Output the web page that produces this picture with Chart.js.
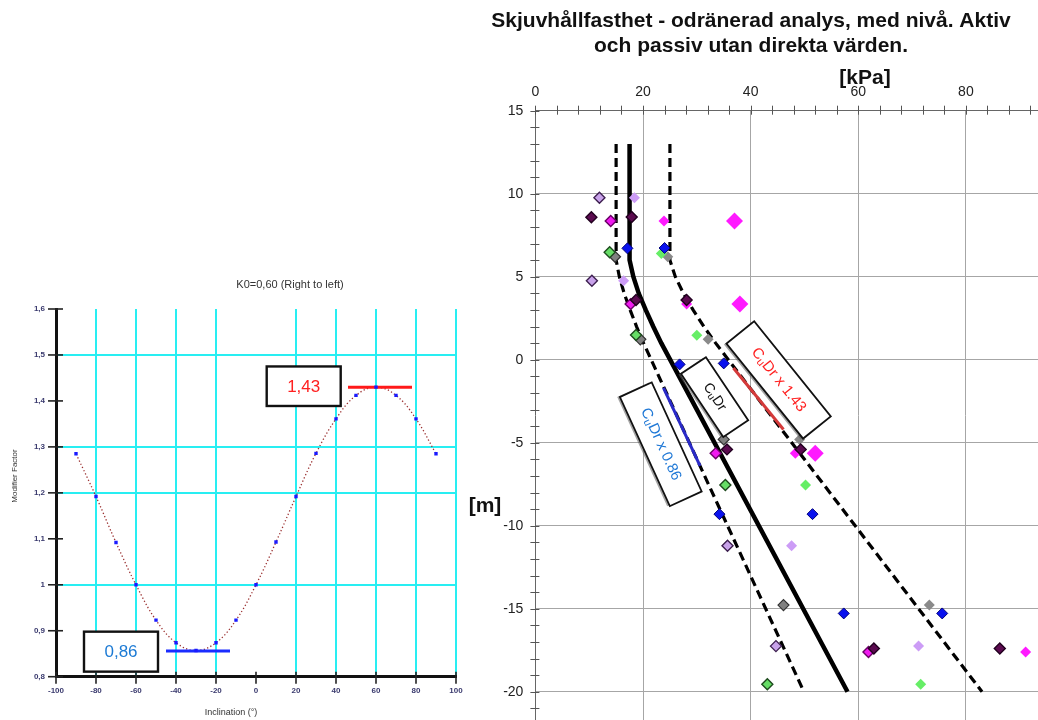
<!DOCTYPE html>
<html><head><meta charset="utf-8">
<script src="https://cdn.jsdelivr.net/npm/chart.js@4.4.0/dist/chart.umd.min.js"></script>
<style>
html,body{margin:0;padding:0;background:#fff;width:1038px;height:720px;overflow:hidden;position:relative;}
#c1{position:absolute;left:0;top:270px;}
#c2{position:absolute;left:460px;top:0;}
</style></head><body>
<canvas id="c1" width="468" height="450"></canvas>
<canvas id="c2" width="578" height="720"></canvas>
<script>
// ---------- Left chart: modifier factor vs inclination ----------
const inclination = [-90,-80,-70,-60,-50,-40,-30,-20,-10,0,10,20,30,40,50,60,70,80,90];
const modifierFactor = [1.285,1.192,1.092,1.0,0.923,0.874,0.857,0.874,0.923,1.0,1.093,1.192,1.286,1.361,1.412,1.430,1.412,1.361,1.285];
const maxLineX = [46, 78];
const maxLineY = [1.43, 1.43];
const minLineX = [-45, -13];
const minLineY = [0.856, 0.856];
const cyanXLines = [-80,-60,-40,-20,20,40,60,80,100];
const cyanYLines = [1.0,1.2,1.3,1.5];
const leftTitle = 'K0=0,60 (Right to left)';
const leftXTitle = 'Inclination (°)';
const leftYTitle = 'Modifier Factor';
const maxLabel = '1,43';
const minLabel = '0,86';

// ---------- Right chart: shear strength vs level ----------
const rightTitle = ['Skjuvhållfasthet - odränerad analys, med nivå. Aktiv', 'och passiv utan direkta värden.'];
const depthM   = [13, 6, 5, 4, 3, 2, 1, -20];
const cuDr     = [17.5, 17.5, 18.2, 19.2, 20.5, 21.9, 23.4, 58.0];
const cuDrLow  = [15.0, 15.0, 15.6, 16.5, 17.6, 18.8, 20.1, 49.9];
const cuDrHigh = [25.0, 25.0, 26.0, 27.5, 29.3, 31.3, 33.5, 83.0];
const lowSegX  = [23.8, 30.6];  const lowSegY  = [-1.7, -6.4];
const highSegX = [36.8, 46.1];  const highSegY = [-0.5, -4.2];

const darkPurpleX = [10.4, 17.9, 18.7, 28.1, 35.6, 49.3, 62.9, 86.3];
const darkPurpleY = [8.58, 8.6, 3.6, 3.6, -5.4, -5.4, -17.4, -17.4];
const magentaBX = [14.0, 17.7, 33.5, 61.9];
const magentaBY = [8.36, 3.35, -5.64, -17.6];
const magentaX = [23.9, 28.1, 48.3, 91.1];
const magentaY = [8.36, 3.35, -5.64, -17.6];
const magentaBigX = [37.0, 38.0, 52.0];
const magentaBigY = [8.36, 3.35, -5.64];
const lavenderBX = [11.9, 10.5, 35.7, 44.7];
const lavenderBY = [9.76, 4.76, -11.2, -17.25];
const lavenderX = [18.4, 16.4, 47.6, 71.2];
const lavenderY = [9.76, 4.76, -11.2, -17.25];
const greenBX = [13.8, 18.7, 35.3, 43.1];
const greenBY = [6.47, 1.49, -7.55, -19.54];
const greenX = [23.4, 30.0, 50.2, 71.6];
const greenY = [6.4, 1.47, -7.55, -19.54];
const grayBX = [14.8, 19.5, 35.0, 46.1];
const grayBY = [6.2, 1.23, -4.8, -14.78];
const grayX = [24.6, 32.1, 49.1, 73.2];
const grayY = [6.2, 1.23, -4.8, -14.78];
const blueX = [17.1, 24.0, 26.8, 35.0, 34.2, 51.5, 57.3, 75.6];
const blueY = [6.71, 6.73, -0.28, -0.22, -9.3, -9.3, -15.28, -15.28];
const boxTexts = ['Dr x 0.86', 'Dr', 'Dr x 1.43'];

const FONT = '"Liberation Sans", Arial, Helvetica, sans-serif';
const pts = (xs, ys) => xs.map((x, i) => ({x, y: ys[i]}));
const near = (v, list) => list.some(a => Math.abs(a - v) < 1e-6);
const noPad = s => { s.paddingLeft = 0; s.paddingRight = 0; s.paddingTop = 0; s.paddingBottom = 0; };

// ---------- Left chart ----------
const leftDecor = {
  id: 'leftDecor',
  afterDatasetsDraw(chart) {
    const {ctx, scales: {x, y}} = chart;
    const box = (x0, y0, x1, y1, txt, col) => {
      const l = x.getPixelForValue(x0), r = x.getPixelForValue(x1);
      const t = y.getPixelForValue(y0), b = y.getPixelForValue(y1);
      ctx.save();
      ctx.fillStyle = '#fff';
      ctx.fillRect(l, t, r - l, b - t);
      ctx.strokeStyle = '#111'; ctx.lineWidth = 2.4;
      ctx.strokeRect(l, t, r - l, b - t);
      ctx.fillStyle = col; ctx.font = '17px ' + FONT;
      ctx.textAlign = 'center'; ctx.textBaseline = 'middle';
      ctx.fillText(txt, (l + r) / 2, (t + b) / 2 + 1);
      ctx.restore();
    };
    box(5.35, 1.475, 42.35, 1.389, maxLabel, '#ff2020');
    box(-86, 0.898, -49, 0.811, minLabel, '#1c7ad4');
  },
  afterDraw(chart) {
    const {ctx, scales: {x, y}} = chart;
    ctx.save();
    ctx.strokeStyle = '#222'; ctx.lineWidth = 1.6;
    const ax = x.left, ay = y.bottom;
    y.ticks.forEach(t => {
      const py = y.getPixelForValue(t.value);
      ctx.beginPath(); ctx.moveTo(ax - 8, py); ctx.lineTo(ax + 7, py); ctx.stroke();
    });
    x.ticks.forEach(t => {
      const px = x.getPixelForValue(t.value);
      ctx.beginPath(); ctx.moveTo(px, ay - 5); ctx.lineTo(px, ay + 7); ctx.stroke();
    });
    ctx.fillStyle = '#333';
    ctx.textAlign = 'center'; ctx.textBaseline = 'middle';
    ctx.font = '11px ' + FONT;
    ctx.fillText(leftTitle, 290, 15);
    ctx.font = '9px ' + FONT;
    ctx.fillText(leftXTitle, 231, 443);
    ctx.translate(15, 206); ctx.rotate(-Math.PI / 2);
    ctx.font = '8px ' + FONT;
    ctx.fillText(leftYTitle, 0, 0);
    ctx.restore();
  }
};

new Chart(document.getElementById('c1'), {
  type: 'scatter',
  data: {datasets: [
    {data: pts(inclination, modifierFactor), showLine: false, pointStyle: 'rect', pointRadius: 2.4,
     backgroundColor: '#1a1aff', borderColor: '#1a1aff', borderWidth: 0, order: 0},
    {data: pts(maxLineX, maxLineY), showLine: true, borderColor: '#ff1a1a', borderWidth: 3, pointRadius: 0, order: 1},
    {data: pts(minLineX, minLineY), showLine: true, borderColor: '#1a2cff', borderWidth: 3, pointRadius: 0, order: 1},
    {data: pts(inclination, modifierFactor), showLine: true, borderColor: '#9b3030', borderWidth: 1.3,
     borderDash: [1.3, 2.3], tension: 0.4, pointRadius: 0, order: 2}
  ]},
  options: {
    responsive: false, animation: false, events: [],
    layout: {padding: {top: 39, right: 12, left: 0, bottom: 0}, autoPadding: false},
    plugins: {legend: {display: false}, tooltip: {enabled: false}},
    scales: {
      x: {type: 'linear', min: -100, max: 100,
          ticks: {stepSize: 20, autoSkip: false, maxRotation: 0, padding: 9, color: '#3a3a6e',
                  font: {size: 8, weight: 'bold', family: FONT}},
          grid: {drawTicks: false, lineWidth: 2, color: c => near(c.tick.value, cyanXLines) ? '#28eef2' : 'rgba(0,0,0,0)'},
          border: {color: '#111', width: 3},
          afterFit: s => { s.height = 43.3; noPad(s); }},
      y: {type: 'linear', min: 0.8, max: 1.6,
          ticks: {stepSize: 0.1, autoSkip: false, padding: 11, color: '#3a3a6e',
                  font: {size: 8, weight: 'bold', family: FONT},
                  callback: v => String(Number(v.toFixed(1))).replace('.', ',')},
          grid: {drawTicks: false, lineWidth: 2, color: c => near(c.tick.value, cyanYLines) ? '#28eef2' : 'rgba(0,0,0,0)'},
          border: {color: '#111', width: 3},
          afterFit: s => { s.width = 56; noPad(s); }}
    }
  },
  plugins: [leftDecor]
});

// ---------- Right chart ----------
function drawCu(ctx, rest, color, size) {
  const big = size + 'px ' + FONT, small = Math.round(size * 0.7) + 'px ' + FONT;
  ctx.font = big; const wC = ctx.measureText('C').width, wR = ctx.measureText(rest).width;
  ctx.font = small; const wU = ctx.measureText('u').width;
  let x = -(wC + wU + wR) / 2;
  ctx.fillStyle = color; ctx.textAlign = 'left'; ctx.textBaseline = 'middle';
  ctx.font = big; ctx.fillText('C', x, 0); x += wC;
  ctx.font = small; ctx.fillText('u', x, size * 0.22); x += wU;
  ctx.font = big; ctx.fillText(rest, x, 0);
}

const rightDecor = {
  id: 'rightDecor',
  afterDatasetsDraw(chart) {
    const {ctx, scales: {x, y}} = chart;
    const rbox = (vx, vy, w, h, deg, txt, col, size) => {
      ctx.save();
      ctx.translate(x.getPixelForValue(vx), y.getPixelForValue(vy));
      ctx.rotate(deg * Math.PI / 180);
      ctx.fillStyle = 'rgba(90,90,90,0.55)';
      ctx.fillRect(-w / 2 - 1, -h / 2 + 2.5, w, h);
      ctx.fillStyle = '#fff';
      ctx.fillRect(-w / 2, -h / 2, w, h);
      ctx.strokeStyle = '#111'; ctx.lineWidth = 1.8;
      ctx.strokeRect(-w / 2, -h / 2, w, h);
      drawCu(ctx, txt, col, size);
      ctx.restore();
    };
    rbox(23.3, -5.09, 120, 35, 65.4, boxTexts[0], '#1f78d6', 15);
    rbox(33.3, -2.25, 76, 30, 56.2, boxTexts[1], '#111', 14);
    rbox(45.2, -1.22, 122, 35.6, 51.1, boxTexts[2], '#ff2020', 15);
  },
  afterDraw(chart) {
    const {ctx, scales: {x, y}} = chart;
    ctx.save();
    ctx.strokeStyle = '#555'; ctx.lineWidth = 1;
    const top = y.getPixelForValue(15), left = x.getPixelForValue(0);
    for (let v = 0; v <= x.max; v += 4) {
      const px = Math.round(x.getPixelForValue(v)) + 0.5;
      ctx.beginPath(); ctx.moveTo(px, top - 5); ctx.lineTo(px, top + 4); ctx.stroke();
    }
    for (let v = 15; v >= y.min; v -= 1) {
      const py = Math.round(y.getPixelForValue(v)) + 0.5;
      ctx.beginPath(); ctx.moveTo(left - 5, py); ctx.lineTo(left + 4, py); ctx.stroke();
    }
    ctx.fillStyle = '#111';
    ctx.textAlign = 'center'; ctx.textBaseline = 'middle';
    ctx.font = 'bold 21px ' + FONT;
    ctx.fillText(rightTitle[0], 291, 21);
    ctx.fillText(rightTitle[1], 291, 46);
    ctx.fillText('[kPa]', 405, 78);
    ctx.fillText('[m]', 25, 506);
    ctx.restore();
  }
};

const diamond = (xs, ys, fill, border, bw, r) => ({
  data: pts(xs, ys), showLine: false, pointStyle: 'rectRot', pointRadius: r,
  backgroundColor: fill, borderColor: border, borderWidth: bw, order: 0
});
const lineDs = (xs, ys, col, w, dash) => ({
  data: pts(xs, ys), showLine: true, borderColor: col, borderWidth: w, borderDash: dash || [],
  pointRadius: 0, tension: 0, order: 5
});

new Chart(document.getElementById('c2'), {
  type: 'scatter',
  data: {datasets: [
    diamond(blueX, blueY, '#0a12ee', '#00007a', 1, 5.5),
    diamond(darkPurpleX, darkPurpleY, '#5c0b50', '#220020', 1.4, 5.5),
    diamond(magentaBX, magentaBY, '#f01af0', '#6a0066', 1.4, 5.5),
    diamond(magentaX, magentaY, '#ff1aff', '#ff1aff', 0, 5.5),
    diamond(magentaBigX, magentaBigY, '#ff1aff', '#ff1aff', 0, 8.5),
    diamond(lavenderBX, lavenderBY, '#c8a2ea', '#3e2050', 1.4, 5.5),
    diamond(lavenderX, lavenderY, '#cc9cf6', '#cc9cf6', 0, 5.5),
    diamond(greenBX, greenBY, '#66dd66', '#1d4a1d', 1.4, 5.5),
    diamond(greenX, greenY, '#66ee66', '#66ee66', 0, 5.5),
    diamond(grayBX, grayBY, '#808080', '#333', 1.2, 5.5),
    diamond(grayX, grayY, '#8a8a8a', '#8a8a8a', 0, 5.5),
    lineDs(lowSegX, lowSegY, '#2a2ac8', 3),
    lineDs(highSegX, highSegY, '#d43a3a', 3),
    lineDs(cuDr, depthM, '#000', 4.5),
    lineDs(cuDrLow, depthM, '#000', 3.2, [9, 5]),
    lineDs(cuDrHigh, depthM, '#000', 3.2, [9, 5])
  ]},
  options: {
    responsive: false, animation: false, events: [],
    layout: {padding: 0, autoPadding: false},
    plugins: {legend: {display: false}, tooltip: {enabled: false}},
    scales: {
      x: {type: 'linear', position: 'top', min: 0, max: 93.4,
          ticks: {stepSize: 20, includeBounds: false, autoSkip: false, maxRotation: 0, padding: 10, color: '#222',
                  font: {size: 14, family: FONT}},
          grid: {drawTicks: false, lineWidth: 1, color: c => c.tick.value === 0 ? 'rgba(0,0,0,0)' : '#a6a6a6'},
          border: {color: '#666', width: 1},
          afterFit: s => { s.height = 110.7; noPad(s); }},
      y: {type: 'linear', min: -21.7, max: 15,
          ticks: {stepSize: 5, includeBounds: false, autoSkip: false, padding: 12, color: '#222',
                  font: {size: 14, family: FONT}},
          grid: {drawTicks: false, lineWidth: 1, color: c => c.tick.value === 15 ? 'rgba(0,0,0,0)' : '#a6a6a6'},
          border: {color: '#666', width: 1},
          afterFit: s => { s.width = 75.4; noPad(s); }}
    }
  },
  plugins: [rightDecor]
});
</script>
</body></html>
